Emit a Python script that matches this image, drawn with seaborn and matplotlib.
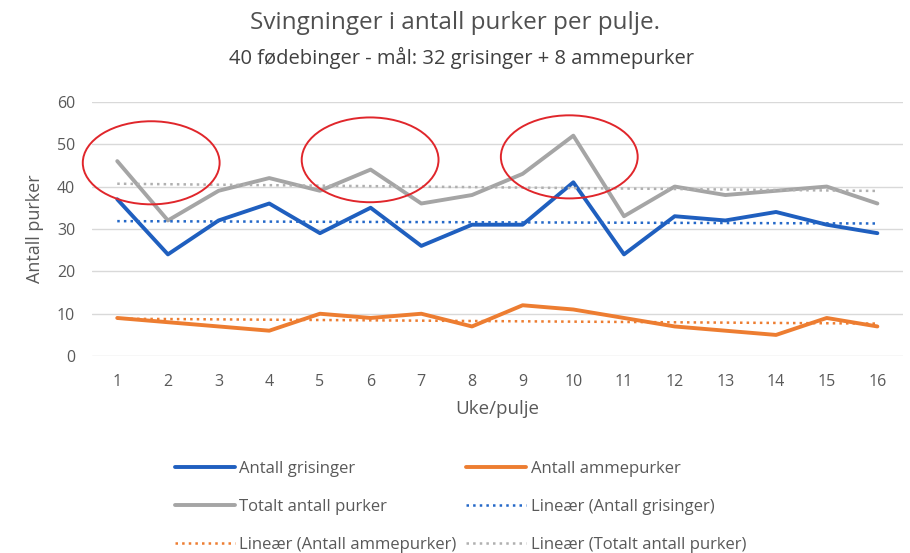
import numpy as np
import matplotlib
matplotlib.use("Agg")
import matplotlib.pyplot as plt
from matplotlib.patches import Ellipse
import seaborn as sns

# data
uker = list(range(1, 17))
grisinger = [37, 24, 32, 36, 29, 35, 26, 31, 31, 41, 24, 33, 32, 34, 31, 29]
ammepurker = [9, 8, 7, 6, 10, 9, 10, 7, 12, 11, 9, 7, 6, 5, 9, 7]
totalt = [46, 32, 39, 42, 39, 44, 36, 38, 43, 52, 33, 40, 38, 39, 40, 36]
navn = ["Antall grisinger", "Antall ammepurker", "Totalt antall purker",
        "Lineær (Antall grisinger)", "Lineær (Antall ammepurker)", "Lineær (Totalt antall purker)"]

# red rings drawn by hand on the original (centre x, centre y, width, height)
ringer = [(1.67, 45.6, 2.7, 19.6), (5.99, 46.3, 2.7, 20.0), (9.92, 47.0, 2.7, 19.6)]

blaa = "#1F5FBF"
oransje = "#ED7D31"
graa = "#A5A5A5"
tekst = "#595959"

sns.set_style("white")
plt.rcParams["font.family"] = ["Open Sans", "DejaVu Sans"]

fig = plt.figure(figsize=(9.1, 5.53), dpi=100)
ax = fig.add_axes([0.101, 0.356, 0.891, 0.46])

for serie, farge in [(grisinger, blaa), (ammepurker, oransje), (totalt, graa)]:
    sns.lineplot(x=uker, y=serie, color=farge, lw=2.8, ax=ax)

for serie, farge in [(grisinger, "#2468C8"), (ammepurker, oransje), (totalt, "#B0B0B0")]:
    sns.regplot(x=np.array(uker), y=np.array(serie), scatter=False, ci=None, ax=ax,
                line_kws=dict(color=farge, ls=":", lw=1.8))

linjer = ax.get_lines()[:6]

for cx, cy, w, h in ringer:
    ax.add_patch(Ellipse((cx, cy), w, h, fill=False, ec="#E0262B", lw=1.4, zorder=5,
                         clip_on=False))

ax.set_xlim(0.5, 16.5)
ax.set_ylim(0, 60)
ax.set_xticks(uker)
ax.set_yticks(range(0, 61, 10))
ax.grid(axis="y", color="#D9D9D9", lw=1)
ax.set_axisbelow(True)
sns.despine(ax=ax, left=True, bottom=True)
ax.tick_params(axis="both", length=0, labelsize=11.5, colors=tekst)
ax.tick_params(axis="x", pad=13)
ax.tick_params(axis="y", pad=12)
ax.set_xlabel("Uke/pulje", fontsize=13.5, color=tekst, labelpad=7)
ax.set_ylabel("Antall purker", fontsize=13, color=tekst, labelpad=9)

fig.text(0.5, 0.958, "Svingninger i antall purker per pulje.", ha="center", va="center",
         fontsize=17.5, color="#505050")
fig.text(0.507, 0.895, "40 fødebinger - mål: 32 grisinger + 8 ammepurker", ha="center",
         va="center", fontsize=14.5, color="#404040")

rekkefolge = [0, 2, 4, 1, 3, 5]
leg = fig.legend([linjer[i] for i in rekkefolge], [navn[i] for i in rekkefolge], ncol=2,
                 loc="upper left", bbox_to_anchor=(0.185, 0.178), frameon=False,
                 fontsize=12, handlelength=3.6, handletextpad=0.25, columnspacing=0.6,
                 labelspacing=1.3, borderaxespad=0)
for t in leg.get_texts():
    t.set_color(tekst)

fig.savefig("out.png", dpi=100)
